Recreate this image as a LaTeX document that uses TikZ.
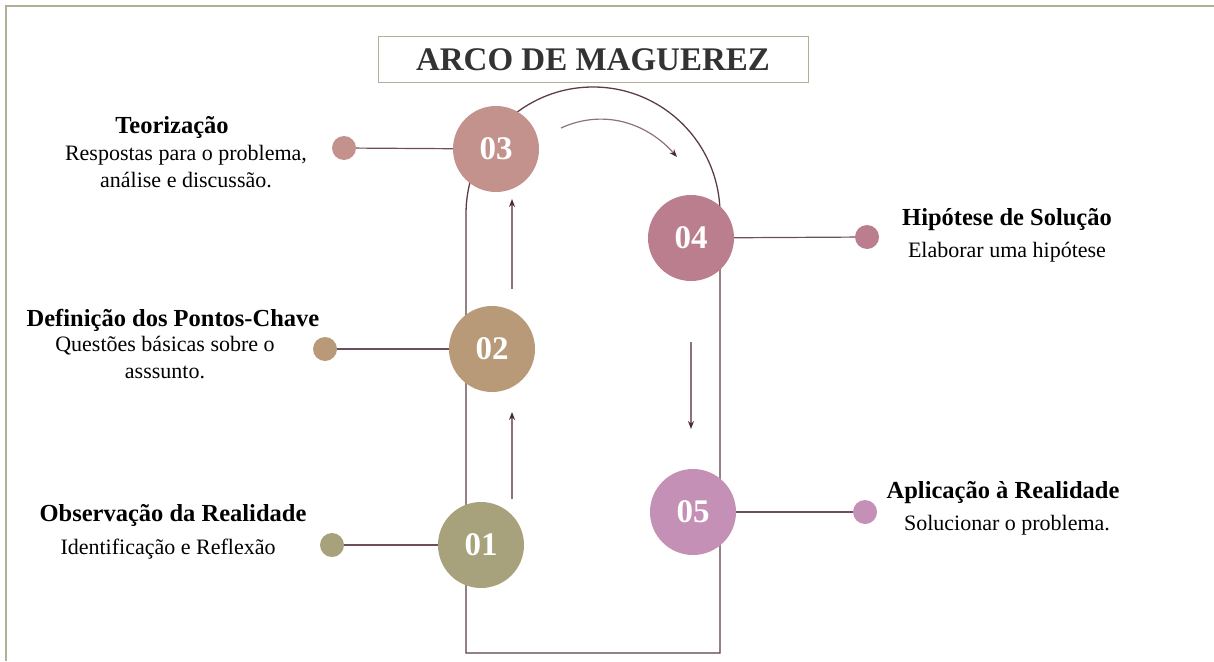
\documentclass[tikz,border=0pt]{standalone}
\usepackage{fontspec}
\setmainfont{Liberation Serif}
\usetikzlibrary{arrows.meta}

\definecolor{framecol}{HTML}{B2AF97}
\definecolor{titlecol}{HTML}{333333}
\definecolor{archcol}{HTML}{5C3C48}
\definecolor{linkcol}{HTML}{6E4E5A}
\definecolor{flowcol}{HTML}{8E7080}
\definecolor{tipcol}{HTML}{4A2A38}
\definecolor{cone}{HTML}{A8A27C}
\definecolor{ctwo}{HTML}{B89A78}
\definecolor{cthree}{HTML}{C3928C}
\definecolor{cfour}{HTML}{BB7E8E}
\definecolor{cfive}{HTML}{C590B5}

\tikzset{
  stage/.style={circle, fill=#1, minimum size=86pt, inner sep=0pt,
    text=white, font=\fontsize{33}{33}\selectfont\bfseries},
  dot/.style={circle, fill=#1, minimum size=24pt, inner sep=0pt},
  link/.style={draw=linkcol, line width=1.2pt},
  flow/.style={draw=flowcol, line width=1.2pt,
    -{Stealth[length=8pt,width=6pt,color=tipcol]}},
  head/.style={anchor=base, inner sep=0pt, font=\fontsize{24.5}{29}\selectfont\bfseries},
  body/.style={anchor=base, inner sep=0pt, align=center, font=\fontsize{22}{27}\selectfont},
}

\begin{document}
\begin{tikzpicture}[x=1pt, y=-1pt]
  \useasboundingbox (0,0) rectangle (1214,661);

  % page frame (top and left edges)
  \draw[framecol, line width=2pt] (6,661) -- (6,6) -- (1214,6);

  % title
  \node[draw=framecol, line width=1pt, minimum width=430pt, minimum height=45pt,
        text=titlecol, font=\fontsize{33}{33}\selectfont\bfseries]
        (title) at (593,59.5) {ARCO DE MAGUEREZ};

  % the arch (y axis points down, so the upper half runs from 180 to 360)
  \draw[archcol, line width=1.3pt]
    (466,653) -- (466,214) arc[start angle=180, end angle=360, radius=127]
    -- (720,653) -- cycle;

  % stages
  \node[stage=cone]   (c1) at (481,545) {01};
  \node[stage=ctwo]   (c2) at (492,349) {02};
  \node[stage=cthree] (c3) at (496,149) {03};
  \node[stage=cfour]  (c4) at (691,238) {04};
  \node[stage=cfive]  (c5) at (693,512) {05};

  % side dots
  \node[dot=cone]   (d1) at (332,545) {};
  \node[dot=ctwo]   (d2) at (325,349) {};
  \node[dot=cthree] (d3) at (344,148) {};
  \node[dot=cfour]  (d4) at (867,237) {};
  \node[dot=cfive]  (d5) at (865,512) {};

  \draw[link] (d1) -- (c1);
  \draw[link] (d2) -- (c2);
  \draw[link] (d3) -- (c3);
  \draw[link] (c4) -- (d4);
  \draw[link] (c5) -- (d5);

  % flow arrows
  \coordinate (f1a) at (512,499);
  \coordinate (f1b) at (512,412);
  \coordinate (f2a) at (512,289);
  \coordinate (f2b) at (512,199);
  \coordinate (f3a) at (561,128);
  \coordinate (f3b) at (677,157);
  \coordinate (f4a) at (691,342);
  \coordinate (f4b) at (691,429);
  \draw[flow] (f1a) -- (f1b);
  \draw[flow] (f2a) -- (f2b);
  \draw[flow] (f3a) .. controls (605,108) and (648,124) .. (f3b);
  \draw[flow] (f4a) -- (f4b);

  % labels (multi-line bodies are placed by their last baseline)
  \node[head] (h3) at (172,133) {Teorização};
  \node[body] (b3) at (186,187) {Respostas para o problema,\\análise e discussão.};
  \node[head] (h2) at (173,326) {Definição dos Pontos-Chave};
  \node[body] (b2) at (165,378) {Questões básicas sobre o\\asssunto.};
  \node[head] (h1) at (173,521) {Observação da Realidade};
  \node[body] (b1) at (168,554) {Identificação e Reflexão};
  \node[head] (h4) at (1007,225) {Hipótese de Solução};
  \node[body] (b4) at (1007,257) {Elaborar uma hipótese};
  \node[head] (h5) at (1003,498) {Aplicação à Realidade};
  \node[body] (b5) at (1007,530) {Solucionar o problema.};
\end{tikzpicture}
\end{document}
